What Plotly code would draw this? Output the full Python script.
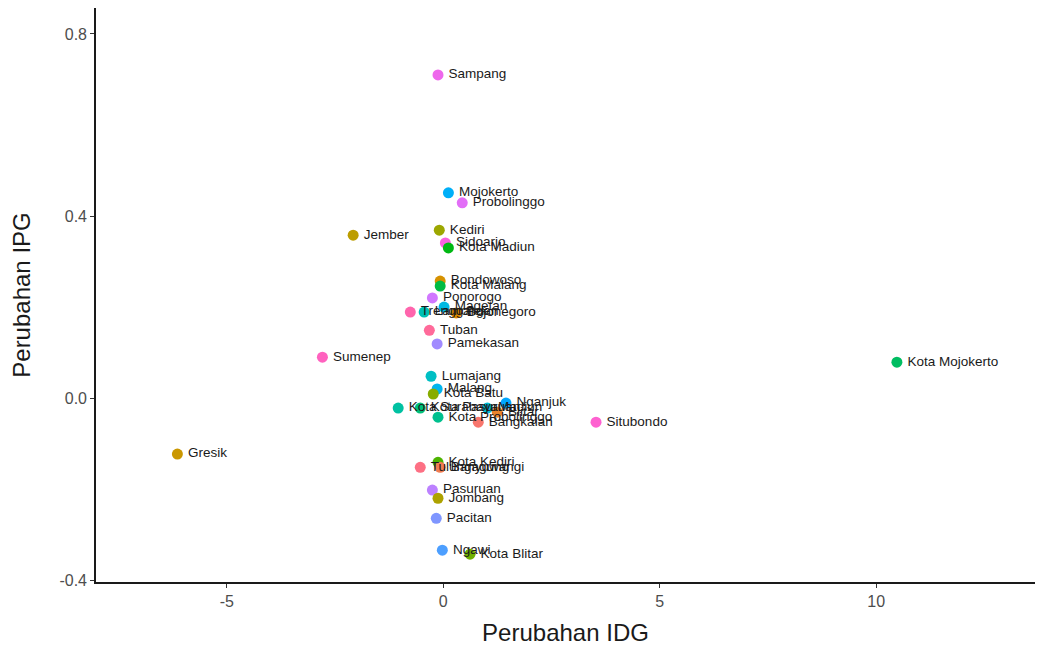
import math
import plotly.graph_objects as go

# Change in IDG (x) and IPG (y) per regency / city, East Java
wilayah = [
    "Sampang", "Mojokerto", "Probolinggo", "Kediri", "Jember", "Sidoarjo",
    "Kota Madiun", "Bondowoso", "Kota Malang", "Ponorogo", "Magetan",
    "Trenggalek", "Lamongan", "Bojonegoro", "Tuban", "Pamekasan", "Sumenep",
    "Kota Mojokerto", "Lumajang", "Malang", "Kota Batu", "Kota Surabaya",
    "Kota Pasuruan", "Kota Probolinggo", "Madiun", "Nganjuk", "Blitar",
    "Bangkalan", "Situbondo", "Gresik", "Kota Kediri", "Banyuwangi",
    "Tulungagung", "Pasuruan", "Jombang", "Pacitan", "Ngawi", "Kota Blitar",
]
perubahan_idg = [
    -0.12, 0.12, 0.44, -0.09, -2.08, 0.05,
    0.12, -0.07, -0.07, -0.25, 0.02,
    -0.76, -0.44, 0.30, -0.32, -0.14, -2.79,
    10.48, -0.28, -0.14, -0.23, -1.04,
    -0.53, -0.12, 1.02, 1.45, 1.25,
    0.81, 3.53, -6.14, -0.12, -0.07,
    -0.53, -0.25, -0.12, -0.16, -0.02, 0.62,
]
perubahan_ipg = [
    0.710, 0.451, 0.429, 0.369, 0.358, 0.341,
    0.330, 0.257, 0.246, 0.220, 0.200,
    0.189, 0.189, 0.187, 0.149, 0.119, 0.090,
    0.079, 0.048, 0.020, 0.009, -0.022,
    -0.022, -0.042, -0.022, -0.011, -0.031,
    -0.053, -0.053, -0.123, -0.141, -0.152,
    -0.152, -0.202, -0.220, -0.264, -0.334, -0.343,
]

x_ticks = [-5, 0, 5, 10]
y_ticks = [-0.4, 0.0, 0.4, 0.8]


def hcl_hex(h, c=100.0, l=65.0):
    """Polar CIE-LUV -> sRGB hex (same model as R's hcl())."""
    hr = math.radians(h)
    u_, v_ = c * math.cos(hr), c * math.sin(hr)
    Y = ((l + 16) / 116) ** 3 if l > 8 else l / 903.3
    xn, yn, zn = 0.95047, 1.0, 1.08883
    den = xn + 15 * yn + 3 * zn
    un, vn = 4 * xn / den, 9 * yn / den
    u = u_ / (13 * l) + un
    v = v_ / (13 * l) + vn
    X = 9 * Y * u / (4 * v)
    Z = (9 * Y - 15 * v * Y - v * X) / (3 * v)
    rgb = [
        3.240479 * X - 1.537150 * Y - 0.498535 * Z,
        -0.969256 * X + 1.875992 * Y + 0.041556 * Z,
        0.055648 * X - 0.204043 * Y + 1.057311 * Z,
    ]
    out = []
    for t in rgb:
        t = 1.055 * t ** (1 / 2.4) - 0.055 if t > 0.0031308 else 12.92 * t
        out.append(int(round(min(max(t, 0.0), 1.0) * 255)))
    return "#%02X%02X%02X" % tuple(out)


# discrete hue palette over the alphabetically sorted names
levels = sorted(wilayah)
n = len(levels)
palette = {name: hcl_hex(15 + i * 360 / n) for i, name in enumerate(levels)}
colors = [palette[w] for w in wilayah]

FONT = "Liberation Sans, Arial, sans-serif"

fig = go.Figure(
    go.Scatter(
        x=perubahan_idg,
        y=perubahan_ipg,
        mode="markers+text",
        text=wilayah,
        texttemplate="\u2009%{text}",
        textposition="middle right",
        textfont=dict(family=FONT, size=13.5, color="#1a1a1a"),
        marker=dict(size=11, color=colors, line=dict(width=0)),
        cliponaxis=False,
        hoverinfo="text",
    )
)

axis_common = dict(
    showgrid=False,
    zeroline=False,
    showline=True,
    linecolor="#1a1a1a",
    linewidth=1.6,
    ticks="outside",
    ticklen=4,
    tickwidth=1,
    tickcolor="#333333",
    tickfont=dict(family=FONT, size=16, color="#4d4d4d"),
    title_font=dict(family=FONT, size=24, color="#1a1a1a"),
)

fig.update_xaxes(
    range=[-8.02, 13.67],
    tickvals=x_ticks,
    ticktext=[str(t) for t in x_ticks],
    title_text="Perubahan IDG",
    title_standoff=15,
    **axis_common,
)
fig.update_yaxes(
    range=[-0.404, 0.857],
    tickvals=y_ticks,
    ticktext=["%.1f" % t for t in y_ticks],
    title_text="Perubahan IPG",
    title_standoff=22,
    **axis_common,
)

fig.update_layout(
    width=1039,
    height=650,
    margin=dict(l=96, r=4, t=8, b=68),
    paper_bgcolor="white",
    plot_bgcolor="white",
    showlegend=False,
)

fig.write_html("out.html")
